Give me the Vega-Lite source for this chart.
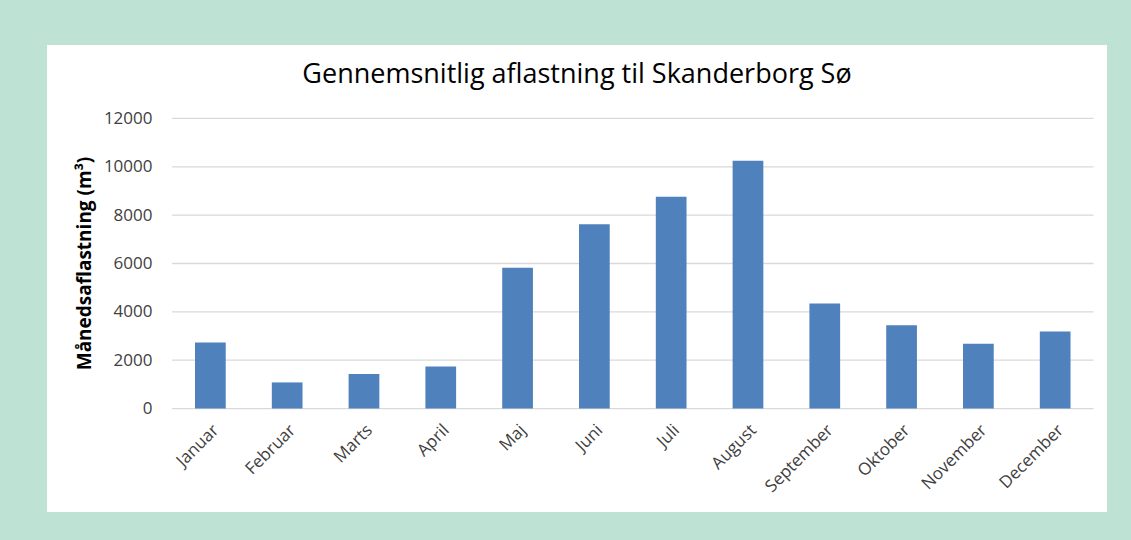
{
  "$schema": "https://vega.github.io/schema/vega-lite/v6.json",
  "width": 1060,
  "height": 467,
  "autosize": {"type": "none"},
  "padding": {"left": 47, "top": 45, "right": 24, "bottom": 28},
  "background": "#bee2d3",
  "title": {
    "text": "Gennemsnitlig aflastning til Skanderborg Sø",
    "font": "Open Sans",
    "fontSize": 27,
    "fontWeight": "normal",
    "color": "#000000",
    "anchor": "middle",
    "baseline": "alphabetic",
    "offset": -65
  },
  "config": {
    "view": {"fill": "white", "stroke": null}
  },
  "layer": [
    {
      "data": {"values": [{"grid": 0}, {"grid": 2000}, {"grid": 4000}, {"grid": 6000}, {"grid": 8000}, {"grid": 10000}, {"grid": 12000}]},
      "mark": {"type": "rule", "color": "#d9d9d9", "strokeWidth": 1.3},
      "encoding": {
        "y": {"field": "grid", "type": "quantitative"},
        "x": {"datum": "Januar", "type": "nominal", "bandPosition": 0},
        "x2": {"datum": "December", "bandPosition": 1}
      }
    },
    {
      "data": {"values": [
        {"month": "Januar", "value": 2730},
        {"month": "Februar", "value": 1080},
        {"month": "Marts", "value": 1430},
        {"month": "April", "value": 1740},
        {"month": "Maj", "value": 5820},
        {"month": "Juni", "value": 7620},
        {"month": "Juli", "value": 8760},
        {"month": "August", "value": 10250},
        {"month": "September", "value": 4350},
        {"month": "Oktober", "value": 3450},
        {"month": "November", "value": 2680},
        {"month": "December", "value": 3190}
      ]},
      "mark": {"type": "bar", "color": "#4f81bd", "width": {"band": 0.4}},
      "encoding": {
        "x": {
          "field": "month",
          "type": "nominal",
          "sort": null,
          "scale": {
            "domain": ["Januar", "Februar", "Marts", "April", "Maj", "Juni", "Juli", "August", "September", "Oktober", "November", "December"],
            "paddingInner": 0,
            "paddingOuter": 0.901,
            "align": 0.903
          },
          "axis": {
            "orient": "bottom",
            "offset": -103.4,
            "title": null,
            "labelAngle": -45,
            "labelAlign": "right",
            "labelBaseline": "top",
            "labelFont": "Open Sans",
            "labelFontSize": 17,
            "labelColor": "#404040",
            "labelPadding": 13,
            "domain": false,
            "ticks": false,
            "grid": false
          }
        },
        "y": {
          "field": "value",
          "type": "quantitative",
          "scale": {"domain": [-4280, 15038], "nice": false, "zero": false},
          "axis": {
            "orient": "left",
            "offset": -125,
            "values": [0, 2000, 4000, 6000, 8000, 10000, 12000],
            "format": "d",
            "title": "Månedsaflastning (m³)",
            "titleFont": "Open Sans",
            "titleFontSize": 19,
            "titleFontWeight": "bold",
            "titleColor": "#000000",
            "titleY": 218,
            "titlePadding": 9,
            "labelFont": "Open Sans",
            "labelFontSize": 17,
            "labelColor": "#404040",
            "labelPadding": 20,
            "domain": false,
            "ticks": false,
            "grid": false
          }
        },
        "y2": {"datum": 0}
      }
    }
  ]
}
